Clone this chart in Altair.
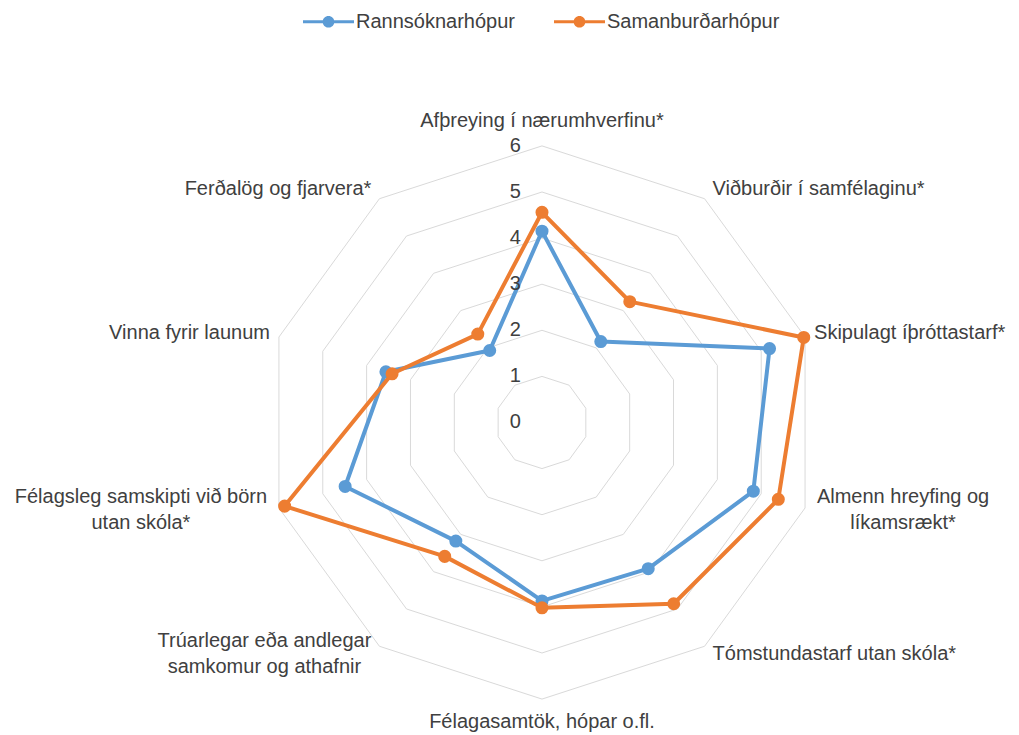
import altair as alt
import pandas as pd

categories = [
    "Afþreying í nærumhverfinu*",
    "Viðburðir í samfélaginu*",
    "Skipulagt íþróttastarf*",
    "Almenn hreyfing og líkamsrækt*",
    "Tómstundastarf utan skóla*",
    "Félagasamtök, hópar o.fl.",
    "Trúarlegar eða andlegar samkomur og athafnir",
    "Félagsleg samskipti við börn utan skóla*",
    "Vinna fyrir launum",
    "Ferðalög og fjarvera*",
]
category_display = [
    "Afþreying í nærumhverfinu*",
    "Viðburðir í samfélaginu*",
    "Skipulagt íþróttastarf*",
    "Almenn hreyfing og\nlíkamsrækt*",
    "Tómstundastarf utan skóla*",
    "Félagasamtök, hópar o.fl.",
    "Trúarlegar eða andlegar\nsamkomur og athafnir",
    "Félagsleg samskipti við börn\nutan skóla*",
    "Vinna fyrir launum",
    "Ferðalög og fjarvera*",
]
series_names = ["Rannsóknarhópur", "Samanburðarhópur"]
series_colors = ["#5B9BD5", "#ED7D31"]
rannsoknarhopur = [4.15, 2.17, 5.19, 4.82, 3.92, 3.87, 3.18, 4.49, 3.56, 1.93]
samanburdarhopur = [4.56, 3.24, 5.97, 5.39, 4.86, 4.02, 3.59, 5.87, 3.42, 2.37]
tick_values = [0, 1, 2, 3, 4, 5, 6]
grid_levels = [1, 2, 3, 4, 5, 6]
max_value = 6

FONT = "Liberation Sans"
TXT = "#404040"
FS = 20
N = len(categories)

# series data (polygon closed by repeating first vertex)
rows = []
for name, vals in zip(series_names, [rannsoknarhopur, samanburdarhopur]):
    for i, v in enumerate(vals + [vals[0]]):
        rows.append({"series": name, "idx": i, "value": v})
series_df = pd.DataFrame(rows)

grid_rows = []
for lv in grid_levels:
    for i in range(N + 1):
        grid_rows.append({"level": lv, "idx": i, "value": lv})
grid_df = pd.DataFrame(grid_rows)

label_df = pd.DataFrame({"idx": list(range(N)), "label": category_display, "value": [max_value] * N})
tick_df = pd.DataFrame({"idx": [0] * len(tick_values), "value": tick_values, "label": [str(t) for t in tick_values]})

ang = f"PI/2 - datum.idx*2*PI/{N}"
xs = alt.X("x:Q", scale=alt.Scale(domain=[-11.5835, 10.1085], nice=False, zero=False), axis=None)
ys = alt.Y("y:Q", scale=alt.Scale(domain=[-6.779, 8.9913], nice=False, zero=False), axis=None)


def polar(ch):
    return ch.transform_calculate(ang=ang).transform_calculate(
        x="datum.value*cos(datum.ang)", y="datum.value*sin(datum.ang)"
    )


color_scale = alt.Scale(domain=series_names, range=series_colors)

grid = polar(alt.Chart(grid_df)).mark_line(color="#D9D9D9", strokeWidth=1).encode(
    x=xs, y=ys, detail="level:N", order="idx:Q"
)

legend_path = "M-1,-0.06H1V0.06H-1Z M-0.23,0A0.23,0.23 0 1,1 0.23,0A0.23,0.23 0 1,1 -0.23,0Z"
legend = alt.Legend(
    orient="none", legendX=295, legendY=-12, direction="horizontal", title=None,
    symbolType=legend_path, symbolSize=2601, symbolStrokeWidth=0,
    labelFont=FONT, labelFontSize=FS, labelColor=TXT, labelOffset=2, labelLimit=400,
    columnPadding=39, padding=0,
)
color_enc = alt.Color("series:N", scale=color_scale, legend=legend)

layers = [grid]
for k, name in enumerate(series_names):
    base = polar(alt.Chart(series_df).transform_filter(alt.datum.series == name))
    line = base.mark_line(strokeWidth=4, strokeJoin="round").encode(
        x=xs, y=ys, order="idx:Q", color=color_enc,
    )
    pts = base.transform_filter(alt.datum.idx < N).mark_point(filled=True, size=170, opacity=1).encode(
        x=xs, y=ys, color=color_enc,
    )
    layers += [line, pts]

ticks = polar(alt.Chart(tick_df)).mark_text(
    align="right", baseline="middle", dx=-21, font=FONT, fontSize=FS, color=TXT
).encode(x=xs, y=ys, text="label:N")
layers.append(ticks)

# label placement styles (align, dx, dy)
label_style = [
    ("center", 0, -25),
    ("left", 8, -10),
    ("left", 9, -4),
    ("center", 98, -11),
    ("left", 8, 8),
    ("center", 0, 23),
    ("center", -115, -5),
    ("center", -138, -11),
    ("right", -9, -4),
    ("right", -8, -10),
]
for i, (al, dx, dy) in enumerate(label_style):
    lab = polar(alt.Chart(label_df).transform_filter(alt.datum.idx == i)).mark_text(
        align=al, baseline="middle", dx=dx, dy=dy, font=FONT, fontSize=FS, color=TXT,
        lineBreak="\n", lineHeight=26,
    ).encode(x=xs, y=ys, text="label:N")
    layers.append(lab)

chart = alt.layer(*layers).properties(
    width=1000, height=727, autosize=alt.AutoSizeParams(type="none"), padding=0
).configure_view(stroke=None)

chart.save("out.html", embed_options={"renderer": "svg", "actions": False})
